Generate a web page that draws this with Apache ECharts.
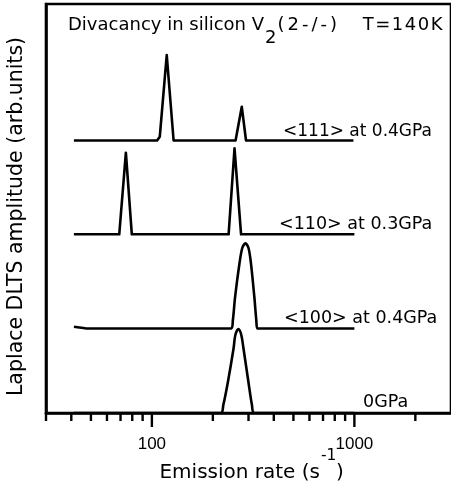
<!DOCTYPE html>
<html>
<head>
<meta charset="utf-8">
<script src="https://cdn.jsdelivr.net/npm/echarts@6/dist/echarts.min.js"></script>
<style>html,body{margin:0;padding:0;background:#fff}#c{width:451px;height:497px}</style>
</head>
<body>
<div id="c"></div>
<script>
// Emission rate (s^-1) and amplitude (arb. units, includes vertical offset of each trace)
const rate111 = [41.2, 106.1, 109.4, 118.4, 128.0, 259.0, 277.9, 291.7, 989];
const amp111  = [272.5, 272.5, 276.3, 358, 272.5, 272.5, 306.3, 272.5, 272.5];

const rate110 = [41.2, 69.0, 74.4, 79.6, 239.3, 255.9, 275.7, 1000];
const amp110  = [178.7, 178.7, 260.3, 178.7, 178.7, 264.7, 178.7, 178.7];

const rate100 = [41.2, 46.0, 48.0, 246.5, 251.2, 257.7, 270.8, 279.5, 289.7, 300.0, 308.5, 320.5, 327.8, 332.6, 1000];
const amp100  = [86.3, 85.0, 84.5, 84.5, 93.0, 116.3, 149.7, 165.0, 169.7, 165.0, 149.7, 116.3, 93.0, 84.5, 84.5];

const rate0 = [41.2, 218.8, 225.3, 237.5, 253.2, 258.3, 267.7, 276.4, 283.3, 299.6, 312.0, 320.5, 1000];
const amp0  = [0, 0, 8, 31.3, 64.7, 78, 84, 78, 64.7, 31.3, 8, 0, 0];

const traceLabels = ['<111> at 0.4GPa', '<110> at 0.3GPa', '<100> at 0.4GPa', '0GPa'];
const majorTicks = [100, 1000];
const minorTicks = [30, 40, 50, 60, 70, 80, 90, 200, 300, 400, 500, 600, 700, 800, 900, 2000];
const xMin = 30, xMax = 3000;
const yMin = 0, yMax = 409;

const zip = (a, b) => a.map((v, i) => [v, b[i]]);
const lineStyle = { color: '#000', width: 2.6, join: 'round' };
function lineSeries(r, a, smooth) {
  return { type: 'line', data: zip(r, a), showSymbol: false, symbol: 'none', smooth: smooth,
           lineStyle: lineStyle, silent: true, animation: false };
}
function tickSeries(vals, len) {
  return {
    type: 'custom', clip: false, silent: true, animation: false,
    data: vals.map(v => [v, 0]),
    renderItem: function (params, api) {
      const p = api.coord([api.value(0), yMin]);
      return { type: 'line', shape: { x1: p[0], y1: p[1], x2: p[0], y2: p[1] + len },
               style: { stroke: '#000', lineWidth: 2.4 } };
    }
  };
}

const FF = '"DejaVu Sans"';
const mctx = document.createElement('canvas').getContext('2d');
function tw(text, size) { mctx.font = size + 'px ' + FF; return mctx.measureText(text).width; }
function txt(x, y, text, size, align, extra) {
  return Object.assign({ type: 'text', x: x, y: y, silent: true,
    style: { text: text, fontSize: size, fontFamily: FF, fill: '#000', align: align || 'left', verticalAlign: 'middle' } }, extra || {});
}
// letter-spaced text built from rich tokens (one token per character)
function stxt(x, y, text, size, ls, align) {
  const s = Array.from(text).map(ch => '{c|' + ch + '}').join('');
  return { type: 'text', x: x, y: y, silent: true,
    style: { text: s, fontSize: size, fontFamily: FF, fill: '#000', align: align || 'left', verticalAlign: 'middle',
             rich: { c: { fontSize: size, fontFamily: FF, fill: '#000', padding: [0, ls, 0, 0] } } } };
}

const tSize = 18;
const t1 = 'Divacancy in silicon V', t2 = '2', t3 = '(2-/-)', t4 = 'T=140K';
const x2 = 68 + tw(t1, tSize) + 1;
const x3 = x2 + tw(t2, tSize) + 1;

const chart = echarts.init(document.getElementById('c'), null, { renderer: 'canvas' });
chart.setOption({
  animation: false,
  backgroundColor: '#fff',
  grid: { left: 46, right: -5, top: 4, bottom: 84, show: true, borderColor: '#000', borderWidth: 2.6 },
  xAxis: {
    type: 'log', logBase: 10, min: xMin, max: xMax,
    axisLine: { show: true, lineStyle: { color: '#000', width: 2.6 } },
    axisTick: { show: false },
    splitLine: { show: false },
    axisLabel: { showMinLabel: false, showMaxLabel: false, margin: 23, color: '#000',
                 fontSize: 17, fontFamily: '"Liberation Sans"',
                 formatter: v => String(Math.round(v)) }
  },
  yAxis: {
    type: 'value', min: yMin, max: yMax,
    axisLine: { show: true, lineStyle: { color: '#000', width: 2.6 } },
    axisTick: { show: false }, axisLabel: { show: false }, splitLine: { show: false }
  },
  series: [
    lineSeries(rate111, amp111, false),
    lineSeries(rate110, amp110, false),
    lineSeries(rate100, amp100, 0.3),
    lineSeries(rate0, amp0, 0.3),
    tickSeries(majorTicks, 14),
    tickSeries(minorTicks, 8)
  ],
  graphic: { elements: [
    txt(68, 25, t1, tSize),
    txt(x2, 38, t2, tSize),
    stxt(x3, 25, t3, tSize, 3),
    stxt(444, 25, t4, tSize, 1.5, 'right'),
    txt(283, 132, traceLabels[0], 17),
    txt(279, 224, traceLabels[1], 17.5),
    txt(284, 318, traceLabels[2], 17.5),
    txt(363, 402, traceLabels[3], 17.5),
    txt(320, 473, 'Emission rate (s', 20, 'right'),
    txt(321, 456, '-1', 15.5),
    txt(336, 473, ')', 20),
    txt(17, 216.5, 'Laplace DLTS amplitude (arb.units)', 20.5, 'center', { rotation: Math.PI / 2 })
  ] }
});
</script>
</body>
</html>
